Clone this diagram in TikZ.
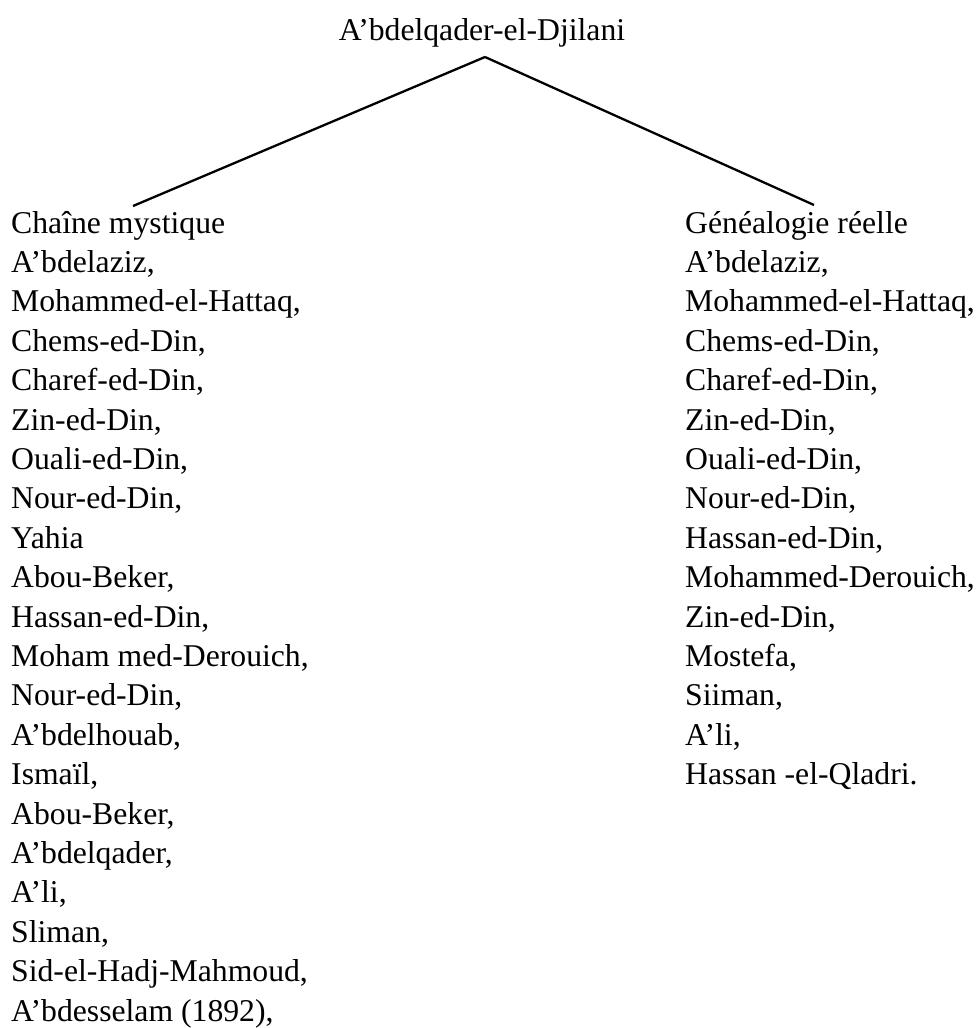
\documentclass[tikz,border=0pt]{standalone}
\usepackage{fontspec}
\setmainfont{Liberation Serif}
\begin{document}
\begin{tikzpicture}
  [x=1pt,y=-1pt,every node/.style={anchor=base west,inner sep=0pt,font=\fontsize{31.7}{38}\selectfont}]
  \useasboundingbox (0,0) rectangle (977,1028);
  \node[anchor=base] (top) at (482,40) {A’bdelqader-el-Djilani};
  \foreach \name [count=\i from 0] in {Chaîne mystique,{A’bdelaziz,},{Mohammed-el-Hattaq,},
  {Chems-ed-Din,},{Charef-ed-Din,},{Zin-ed-Din,},{Ouali-ed-Din,},{Nour-ed-Din,},Yahia,
  {Abou-Beker,},{Hassan-ed-Din,},{Moham med-Derouich,},{Nour-ed-Din,},{A’bdelhouab,},
  {Ismaïl,},{Abou-Beker,},{A’bdelqader,},{A’li,},{Sliman,},{Sid-el-Hadj-Mahmoud,},
  {A’bdesselam (1892),}}
    \node (l\i) at (11,{233+39.4*\i}) {\name};
  \foreach \name [count=\i from 0] in {Généalogie réelle,{A’bdelaziz,},{Mohammed-el-Hattaq,},
  {Chems-ed-Din,},{Charef-ed-Din,},{Zin-ed-Din,},{Ouali-ed-Din,},{Nour-ed-Din,},
  {Hassan-ed-Din,},{Mohammed-Derouich,},{Zin-ed-Din,},{Mostefa,},{Siiman,},{A’li,},
  Hassan -el-Qladri.}
    \node (r\i) at (685,{233+39.4*\i}) {\name};
  \coordinate (apex) at (485,57);
  \coordinate (lfoot) at (133,206);
  \coordinate (rfoot) at (814,205);
  \foreach \to in {lfoot,rfoot}
    \draw[line width=2.3pt] (apex) -- (\to);
\end{tikzpicture}
\end{document}
